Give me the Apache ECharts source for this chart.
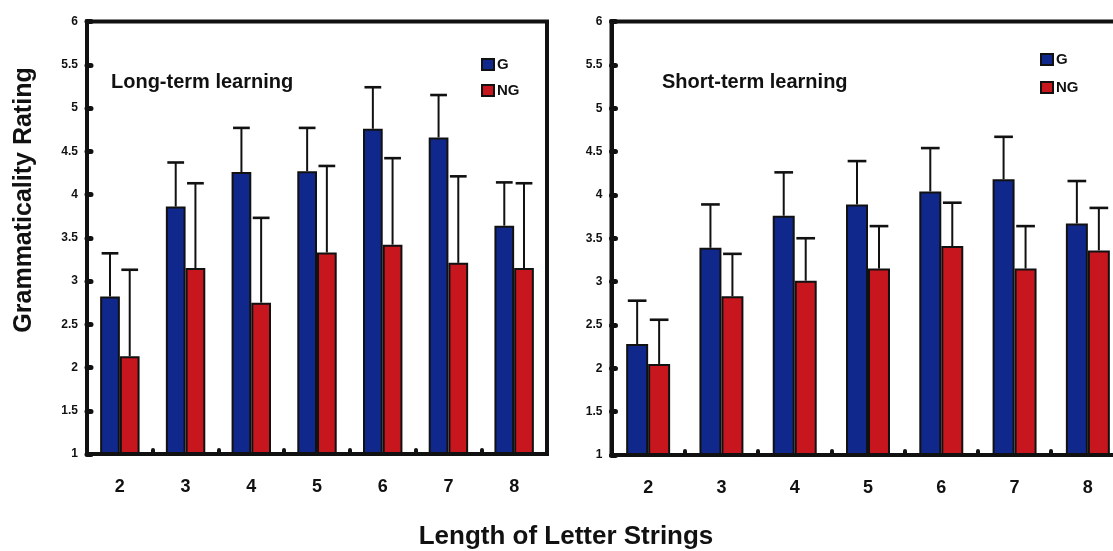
<!DOCTYPE html>
<html>
<head>
<meta charset="utf-8">
<script src="https://cdn.jsdelivr.net/npm/echarts@6/dist/echarts.min.js"></script>
<style>
html,body{margin:0;padding:0;background:#fff;overflow:hidden;width:1113px;height:551px;}
#chart{width:1140px;height:551px;}
</style>
</head>
<body>
<div id="chart"></div>
<script>
// ---- data ----
const categories = ['2', '3', '4', '5', '6', '7', '8'];
const yTicks = { min: 1, max: 6, interval: 0.5 };

// Long-term learning
const longG = [2.82, 3.86, 4.26, 4.27, 4.76, 4.66, 3.64];
const longGErr = [0.50, 0.51, 0.51, 0.50, 0.48, 0.49, 0.50];
const longNG = [2.13, 3.15, 2.75, 3.33, 3.42, 3.21, 3.15];
const longNGErr = [1.00, 0.98, 0.98, 1.00, 1.00, 1.00, 0.98];

// Short-term learning
const shortG = [2.28, 3.39, 3.76, 3.89, 4.04, 4.18, 3.67];
const shortGErr = [0.50, 0.50, 0.50, 0.50, 0.50, 0.49, 0.49];
const shortNG = [2.05, 2.83, 3.01, 3.15, 3.41, 3.15, 3.36];
const shortNGErr = [0.51, 0.49, 0.49, 0.49, 0.50, 0.49, 0.49];

const panelTitles = ['Long-term learning', 'Short-term learning'];
const yTitle = 'Grammaticality Rating';
const xTitle = 'Length of Letter Strings';
const seriesNames = ['G', 'NG'];

// ---- styles ----
const BLUE = '#10288c';
const RED = '#c7161d';
const INK = '#111111';
const FONT = '"Liberation Sans", Arial, Helvetica, sans-serif';
const BAR_FRAC = 0.3;

const chart = echarts.init(document.getElementById('chart'));

function errRender(sign) {
  return function (params, api) {
    const idx = api.value(0), v = api.value(1), e = api.value(2);
    const catW = api.size([1, 0])[0];
    const bw = catW * BAR_FRAC;
    const p0 = api.coord([idx, v]);
    const p1 = api.coord([idx, v + e]);
    const cx = p0[0] + sign * bw / 2;
    const cap = bw * 0.85;
    return {
      type: 'group',
      children: [
        { type: 'line', shape: { x1: cx, y1: p0[1], x2: cx, y2: p1[1] }, style: { stroke: INK, lineWidth: 2 } },
        { type: 'line', shape: { x1: cx - cap / 2, y1: p1[1], x2: cx + cap / 2, y2: p1[1] }, style: { stroke: INK, lineWidth: 2.6 } }
      ]
    };
  };
}

function makeAxes(i) {
  const xa = {
    type: 'category', gridIndex: i, data: categories, z: 4,
    axisLine: { lineStyle: { color: INK, width: 4 } },
    axisTick: { show: true, inside: true, length: 4, lineStyle: { color: INK, width: 4, cap: 'round' } },
    axisLabel: { color: INK, fontFamily: FONT, fontWeight: 'bold', fontSize: 18, margin: 24 },
    splitLine: { show: false }
  };
  const ya = {
    type: 'value', gridIndex: i, min: yTicks.min, max: yTicks.max, interval: yTicks.interval, z: 4,
    axisLine: { show: true, lineStyle: { color: INK, width: 4 } },
    axisTick: { show: true, inside: true, length: 4, lineStyle: { color: INK, width: 5, cap: 'round' } },
    axisLabel: { color: INK, fontFamily: FONT, fontWeight: 'bold', fontSize: 12, margin: 9 },
    splitLine: { show: false }
  };
  return [xa, ya];
}

const ax0 = makeAxes(0), ax1 = makeAxes(1);

function barSeries(name, data, color, gi) {
  return {
    name: name, type: 'bar', xAxisIndex: gi, yAxisIndex: gi,
    data: data, barWidth: (BAR_FRAC * 100) + '%', barGap: '0%',
    itemStyle: { color: color, borderColor: INK, borderWidth: 2 },
    z: 2
  };
}
function errSeries(vals, errs, sign, gi) {
  return {
    type: 'custom', xAxisIndex: gi, yAxisIndex: gi,
    renderItem: errRender(sign),
    data: categories.map((c, i) => [i, vals[i], errs[i]]),
    encode: { x: 0, y: 1 },
    z: 3, silent: true
  };
}

const legendCommon = {
  orient: 'vertical', icon: 'rect', itemWidth: 12, itemHeight: 11, padding: 0,
  data: seriesNames,
  textStyle: { color: INK, fontFamily: FONT, fontWeight: 'bold', fontSize: 15, lineHeight: 15, padding: [0, 0, 0, -2] },
  selectedMode: false
};

const option = {
  animation: false,
  backgroundColor: '#ffffff',
  grid: [
    { left: 87, top: 21.5, width: 460, height: 432.5, show: true, borderColor: INK, borderWidth: 4, backgroundColor: 'transparent' },
    { left: 611.5, top: 21.5, width: 513, height: 433.5, show: true, borderColor: INK, borderWidth: 4, backgroundColor: 'transparent' }
  ],
  xAxis: [ax0[0], ax1[0]],
  yAxis: [ax0[1], ax1[1]],
  title: [
    { text: panelTitles[0], left: 111, top: 72, padding: 0, textStyle: { color: INK, fontFamily: FONT, fontWeight: 'bold', fontSize: 20 } },
    { text: panelTitles[1], left: 662, top: 72, padding: 0, textStyle: { color: INK, fontFamily: FONT, fontWeight: 'bold', fontSize: 20 } }
  ],
  legend: [
    Object.assign({}, legendCommon, { left: 481, top: 57, itemGap: 11 }),
    Object.assign({}, legendCommon, { left: 1040, top: 52, itemGap: 13 })
  ],
  graphic: [
    { type: 'text', x: 24, y: 200, rotation: Math.PI / 2,
      style: { text: yTitle, fill: INK, font: 'bold 25px ' + FONT, textAlign: 'center', textVerticalAlign: 'middle' } },
    { type: 'text', x: 566, y: 537,
      style: { text: xTitle, fill: INK, font: 'bold 26px ' + FONT, textAlign: 'center', textVerticalAlign: 'middle' } }
  ],
  series: [
    barSeries(seriesNames[0], longG, BLUE, 0),
    barSeries(seriesNames[1], longNG, RED, 0),
    errSeries(longG, longGErr, -1, 0),
    errSeries(longNG, longNGErr, 1, 0),
    barSeries(seriesNames[0], shortG, BLUE, 1),
    barSeries(seriesNames[1], shortNG, RED, 1),
    errSeries(shortG, shortGErr, -1, 1),
    errSeries(shortNG, shortNGErr, 1, 1)
  ]
};
chart.setOption(option);
</script>
</body>
</html>
